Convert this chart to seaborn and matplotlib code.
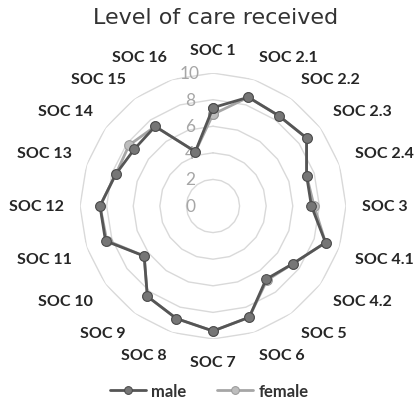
import numpy as np
import pandas as pd
import matplotlib
matplotlib.use("Agg")
import matplotlib.pyplot as plt
import seaborn as sns

# data
categories = ["SOC 1", "SOC 2.1", "SOC 2.2", "SOC 2.3", "SOC 2.4", "SOC 3",
              "SOC 4.1", "SOC 4.2", "SOC 5", "SOC 6", "SOC 7", "SOC 8",
              "SOC 9", "SOC 10", "SOC 11", "SOC 12", "SOC 13", "SOC 14",
              "SOC 15", "SOC 16"]
male = [7.4, 8.6, 8.4, 8.7, 7.4, 7.4, 8.9, 7.4, 6.8, 8.8,
        9.4, 8.9, 8.4, 6.4, 8.5, 8.5, 7.7, 7.3, 7.4, 4.3]
female = [6.9, 8.6, 8.4, 8.7, 7.4, 7.6, 8.9, 7.4, 6.9, 8.8,
          9.4, 8.9, 8.4, 6.4, 8.4, 8.5, 7.7, 7.8, 7.4, 4.3]
ring_ticks = [0, 2, 4, 6, 8, 10]

sns.set_style("white")
plt.rcParams['font.family'] = ['Lato', 'DejaVu Sans']

n = len(categories)
theta = np.linspace(0, 2 * np.pi, n, endpoint=False)


def closed(values):
    """Repeat the first point so the polygon closes."""
    return pd.DataFrame({"theta": np.append(theta, 2 * np.pi),
                         "value": list(values) + [values[0]]})


fig = plt.figure(figsize=(4.18, 4.06), dpi=100)
ax = fig.add_axes([0.1914, 0.1626, 0.6364, 0.655], projection='polar')
ax.set_theta_zero_location('N')
ax.set_theta_direction(-1)

# polygon gridlines like Excel's radar chart
for r in ring_ticks[1:]:
    ax.plot(np.append(theta, 0), [r] * (n + 1), color='#d9d9d9', lw=1, zorder=1)
for r in ring_ticks:
    ax.annotate(str(r), xy=(0, r), xytext=(-23, 0), textcoords='offset pixels',
                ha='center', va='center', fontsize=12.5, color='#a6a6a6', zorder=2)

# category labels around the outside
for t, lab in zip(theta, categories):
    s, c = np.sin(t), np.cos(t)
    ha = 'center' if abs(s) < 0.1 else ('left' if s > 0 else 'right')
    va = 'center' if abs(c) < 0.1 else ('bottom' if c > 0 else 'top')
    ax.text(t, 11.2, lab, ha=ha, va=va, fontsize=11.5, fontweight='bold',
            color='#262626', clip_on=False)

sns.lineplot(data=closed(male), x="theta", y="value", sort=False, ax=ax,
             color='#555555', lw=2, marker='o', markersize=7,
             markerfacecolor='#767676', markeredgecolor='#4a4a4a',
             label='male', zorder=4)
sns.lineplot(data=closed(female), x="theta", y="value", sort=False, ax=ax,
             color='#a6a6a6', lw=2, marker='o', markersize=7,
             markerfacecolor='#bdbdbd', markeredgecolor='#9a9a9a',
             label='female', zorder=3)
ax.set_xlabel('')
ax.set_ylabel('')
ax.set_xticks([])
ax.set_yticks([])
ax.set_ylim(0, 10)
ax.grid(False)
ax.spines['polar'].set_visible(False)

handles, labels = ax.get_legend_handles_labels()
ax.get_legend().remove()
leg = fig.legend(handles, labels, loc='center', bbox_to_anchor=(0.5, 0.034), ncol=2,
                 frameon=False, handlelength=2.2, columnspacing=1.8, markerscale=0.8,
                 handletextpad=0.3, prop={'weight': 'bold', 'size': 12})
for txt in leg.get_texts():
    txt.set_color('#333333')

fig.text(0.515, 1 - 18 / 406, 'Level of care received', ha='center', va='center',
         fontsize=16, color='#333333', family=['DejaVu Sans'])

fig.savefig('out.png', dpi=100)
